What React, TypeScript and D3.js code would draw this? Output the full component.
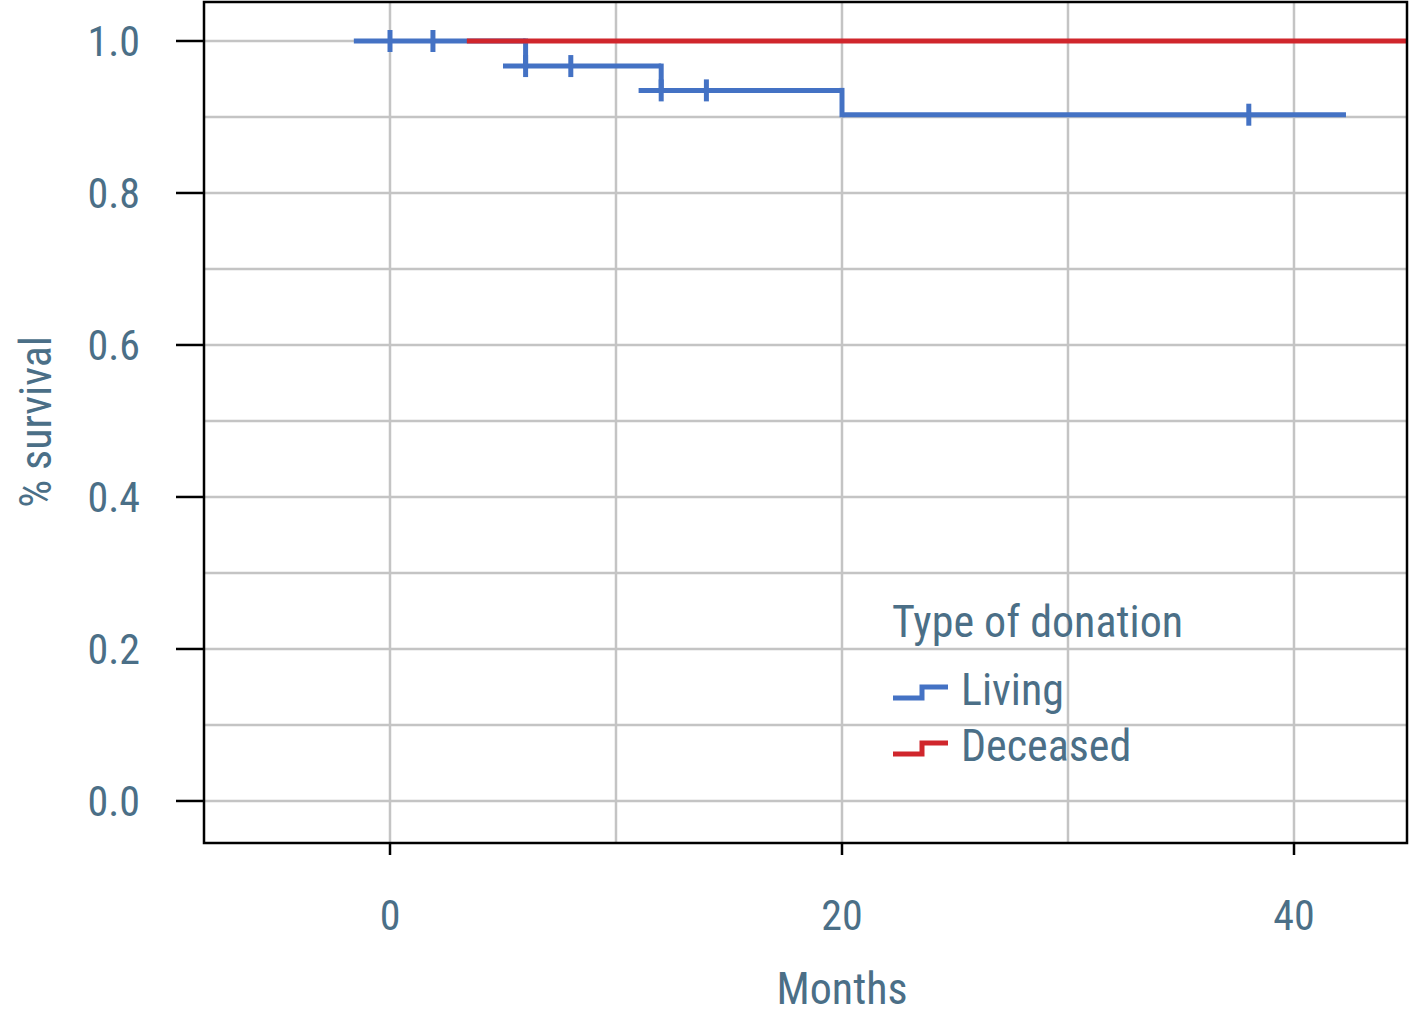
import React, { useEffect } from "react";
import * as d3 from "d3";

// Kaplan-Meier style steps
const livingSegStart = [-1.6, 5.0, 11.0, 20.0];
const livingSegEnd = [6.0, 12.0, 20.0, 42.3];
const livingSurv = [1.0, 0.967, 0.935, 0.903];
const livingDropTimes = [6.0, 12.0, 20.0];
const livingCensorTimes = [0, 1.9, 6.0, 8.0, 12.0, 14.0, 38.0];
const livingCensorSurv = [1.0, 1.0, 0.967, 0.967, 0.935, 0.935, 0.903];

const deceasedStart = [3.4];
const deceasedEnd = [50];
const deceasedSurv = [1.0];

const xTicks = [0, 20, 40];
const xGrid = [0, 10, 20, 30, 40];
const yTicks = [0, 0.2, 0.4, 0.6, 0.8, 1.0];
const yGrid = [0, 0.1, 0.2, 0.3, 0.4, 0.5, 0.6, 0.7, 0.8, 0.9, 1.0];

const legendLabels = ["Living", "Deceased"];
const BLUE = "#4472c4";
const RED = "#d0262c";
const TEXT = "#4b6f87";
const FONT = "'Liberation Sans Narrow', 'Roboto Condensed', 'Liberation Sans', sans-serif";

const App: React.FC = () => {
  useEffect(() => {
    document.body.style.margin = "0";
  }, []);

  const left = 204, right = 1407, top = 2, bottom = 843;
  const x = d3.scaleLinear().domain([-8.23, 45.0]).range([left, right]);
  const y = d3.scaleLinear().domain([-0.0553, 1.0513]).range([bottom, top]);
  const legendColors = [BLUE, RED];

  return (
    <svg width={1410} height={1024} style={{ display: "block", fontFamily: FONT }}>
      <defs>
        <clipPath id="plotclip">
          <rect x={left} y={top} width={right - left} height={bottom - top} />
        </clipPath>
      </defs>
      <rect width={1410} height={1024} fill="#fff" />

      {/* grid */}
      {xGrid.map((t) => (
        <line key={"gx" + t} x1={x(t)} x2={x(t)} y1={top} y2={bottom} stroke="#c4c4c4" strokeWidth={2.5} />
      ))}
      {yGrid.map((t) => (
        <line key={"gy" + t} x1={left} x2={right} y1={y(t)} y2={y(t)} stroke="#c4c4c4" strokeWidth={2.5} />
      ))}

      <g clipPath="url(#plotclip)">
        {/* living */}
        {livingSurv.map((s, i) => (
          <line key={"lh" + i} x1={x(livingSegStart[i])} x2={x(livingSegEnd[i])} y1={y(s)} y2={y(s)}
            stroke={BLUE} strokeWidth={5} />
        ))}
        {livingDropTimes.map((t, i) => (
          <line key={"lv" + i} x1={x(t)} x2={x(t)} y1={y(livingSurv[i]) - 2.5} y2={y(livingSurv[i + 1]) + 2.5}
            stroke={BLUE} strokeWidth={5} />
        ))}
        {livingCensorTimes.map((t, i) => (
          <line key={"lc" + i} x1={x(t)} x2={x(t)} y1={y(livingCensorSurv[i]) - 11} y2={y(livingCensorSurv[i]) + 11}
            stroke={BLUE} strokeWidth={5} />
        ))}
        {/* deceased */}
        {deceasedSurv.map((s, i) => (
          <line key={"dh" + i} x1={x(deceasedStart[i])} x2={x(deceasedEnd[i])} y1={y(s)} y2={y(s)}
            stroke={RED} strokeWidth={5} />
        ))}
      </g>

      {/* frame */}
      <rect x={left} y={top} width={right - left} height={bottom - top} fill="none" stroke="#000" strokeWidth={2.5} />

      {/* y axis */}
      {yTicks.map((t) => (
        <g key={"yt" + t}>
          <line x1={left - 28} x2={left} y1={y(t)} y2={y(t)} stroke="#000" strokeWidth={2.5} />
          <text x={140} y={y(t)} dy="0.36em" textAnchor="end" fontSize={42} fill={TEXT}>
            {t.toFixed(1)}
          </text>
        </g>
      ))}
      {/* x axis */}
      {xTicks.map((t) => (
        <g key={"xt" + t}>
          <line x1={x(t)} x2={x(t)} y1={bottom} y2={bottom + 12} stroke="#000" strokeWidth={2.5} />
          <text x={x(t)} y={915} dy="0.36em" textAnchor="middle" fontSize={42} fill={TEXT}>
            {t}
          </text>
        </g>
      ))}
      <text x={x(20)} y={988} dy="0.36em" textAnchor="middle" fontSize={44} fill={TEXT}>
        Months
      </text>
      <text transform={`translate(35,${422}) rotate(-90)`} dy="0.36em" textAnchor="middle" fontSize={44} fill={TEXT}>
        % survival
      </text>

      {/* legend */}
      <text x={892} y={637} fontSize={44} fill={TEXT}>Type of donation</text>
      {legendLabels.map((lab, i) => {
        const cy = 698 + i * 56;
        return (
          <g key={lab}>
            <path d={`M893,${cy}H922V${cy - 11}H948`} fill="none" stroke={legendColors[i]} strokeWidth={5} />
            <text x={961} y={cy + 7} fontSize={44} fill={TEXT}>{lab}</text>
          </g>
        );
      })}
    </svg>
  );
};

export default App;
